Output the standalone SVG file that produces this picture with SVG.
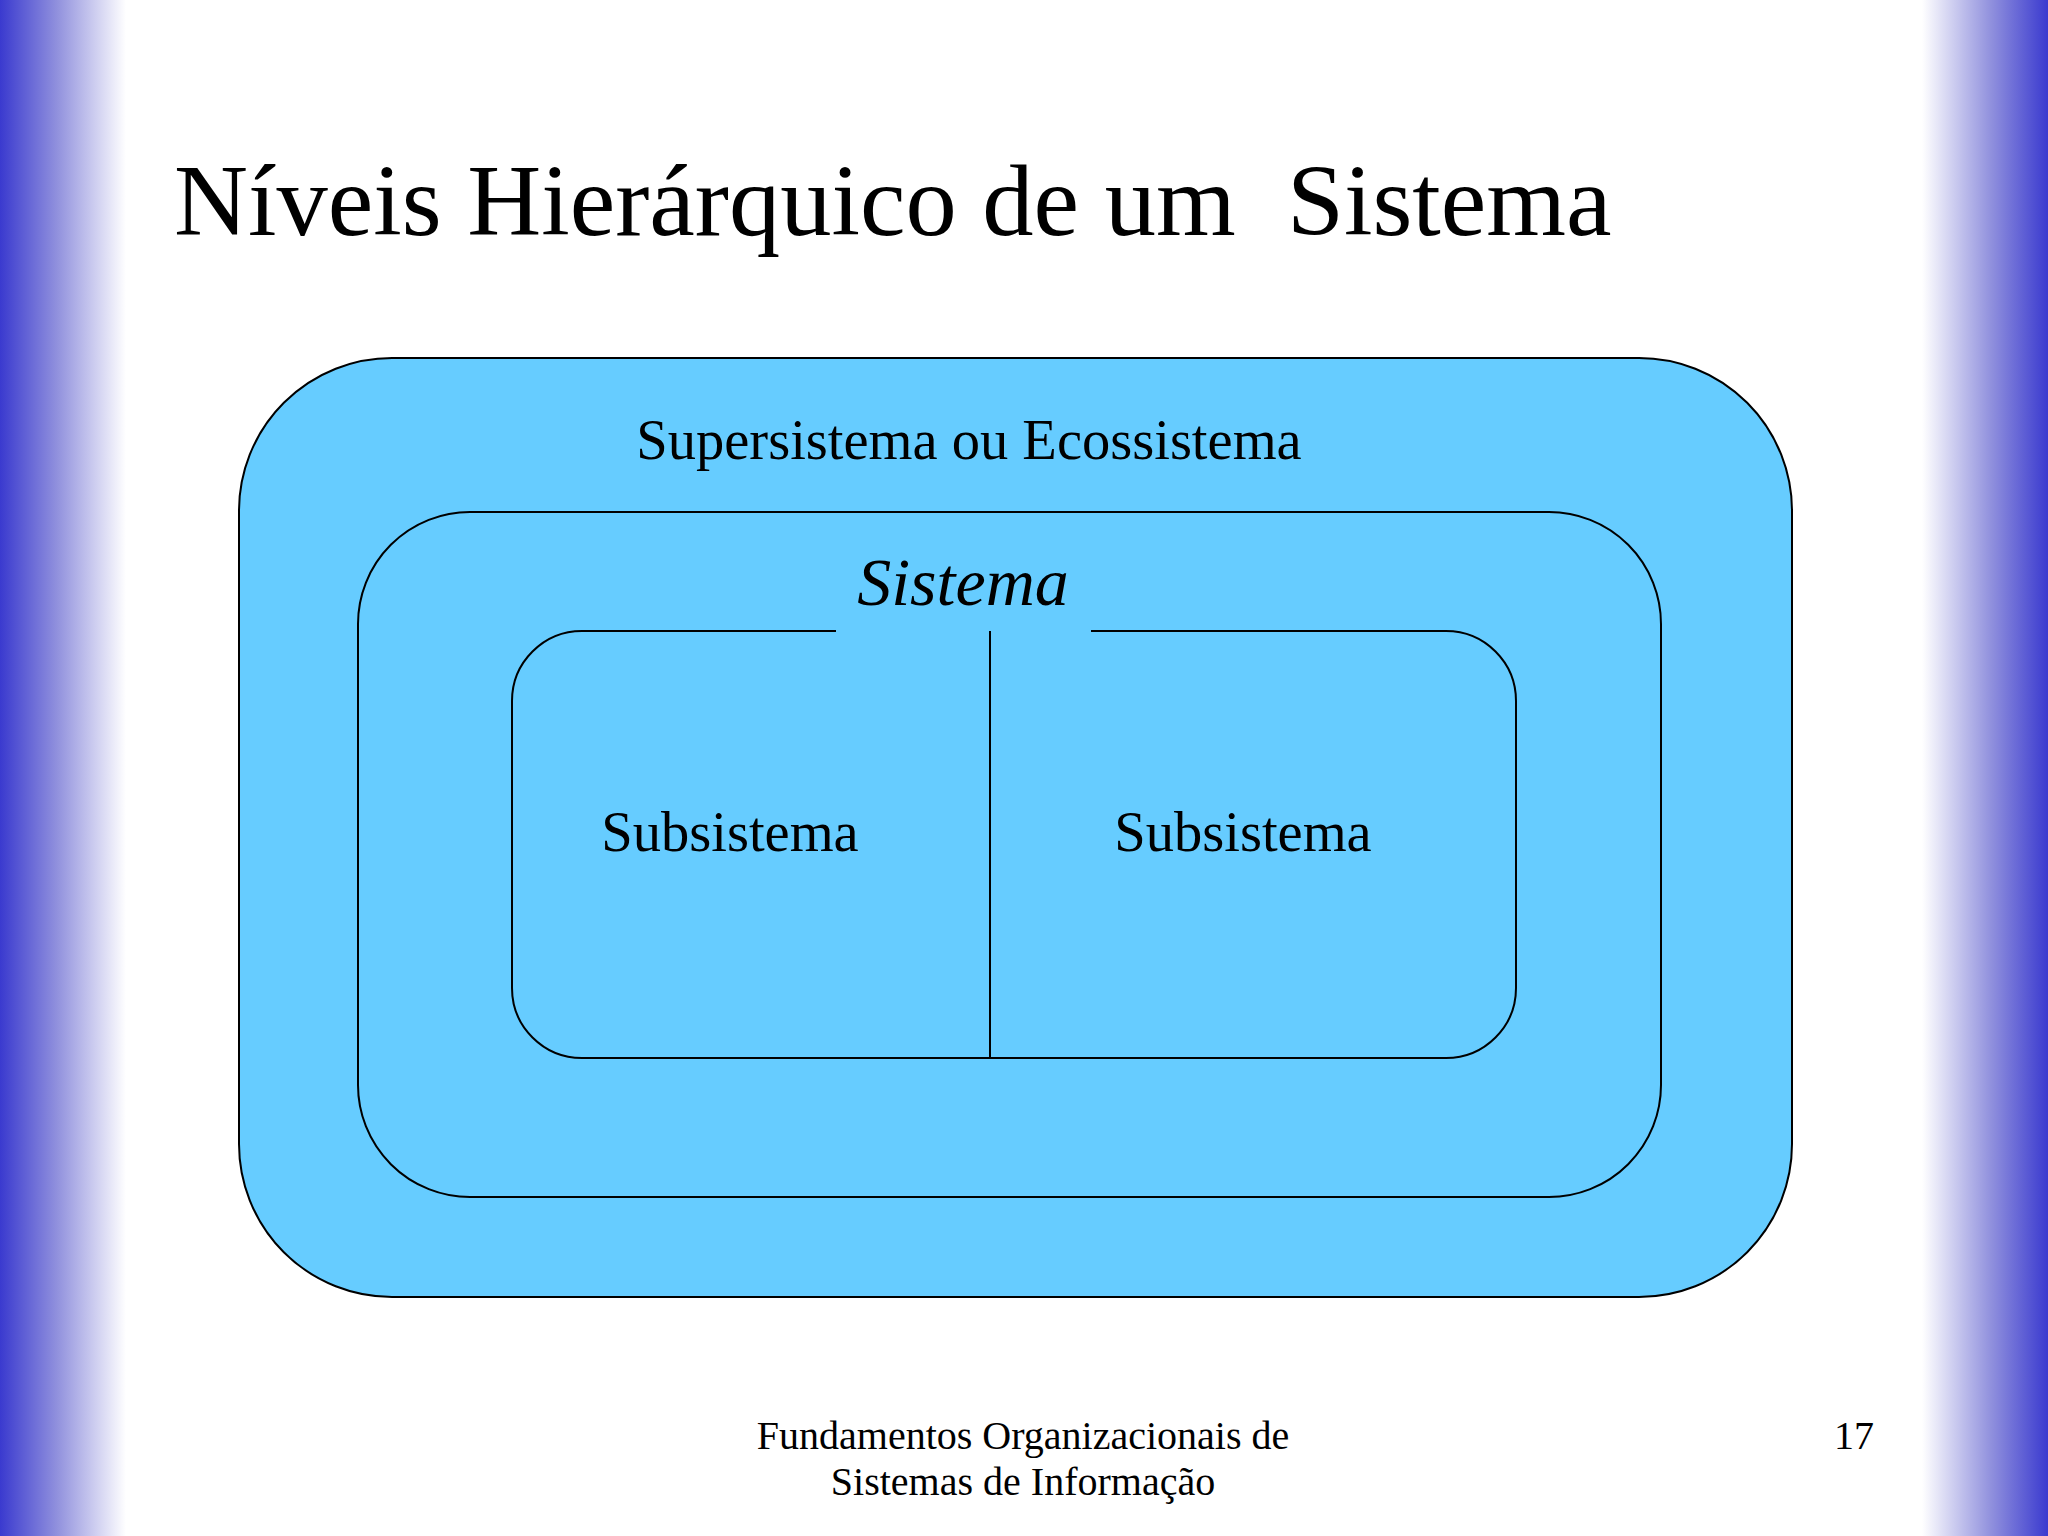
<svg xmlns="http://www.w3.org/2000/svg" width="2048" height="1536" viewBox="0 0 2048 1536">
  <defs>
    <linearGradient id="gl" x1="0" y1="0" x2="1" y2="0">
      <stop offset="0" stop-color="#3A3ACF"/>
      <stop offset="0.45" stop-color="#9090DD"/>
      <stop offset="1" stop-color="#FFFFFF"/>
    </linearGradient>
    <linearGradient id="gr" x1="1" y1="0" x2="0" y2="0">
      <stop offset="0" stop-color="#3A3ACF"/>
      <stop offset="0.45" stop-color="#9090DD"/>
      <stop offset="1" stop-color="#FFFFFF"/>
    </linearGradient>
    <style>
      .box { fill: #66CCFF; stroke: #000000; stroke-width: 2; }
      .t { font-family: "Liberation Serif", "Times New Roman", serif; fill: #000000; }
    </style>
  </defs>
  <rect x="0" y="0" width="2048" height="1536" fill="#FFFFFF"/>
  <rect x="0" y="0" width="126" height="1536" fill="url(#gl)"/>
  <rect x="1922" y="0" width="126" height="1536" fill="url(#gr)"/>

  <text class="t" x="174" y="235" font-size="102.5" xml:space="preserve">Níveis Hierárquico de um  Sistema</text>

  <g id="supersistema">
    <rect class="box" x="239" y="358" width="1553" height="939" rx="153" ry="153"/>
    <text class="t" x="969" y="459" font-size="56.5" text-anchor="middle">Supersistema ou Ecossistema</text>
  </g>

  <g id="sistema">
    <rect class="box" x="358" y="512" width="1303" height="685" rx="112" ry="112"/>
    <text class="t" x="963" y="605" font-size="68" font-style="italic" text-anchor="middle">Sistema</text>
  </g>

  <g id="subsistemas">
    <path class="box" d="M836,631 H582 A70,70 0 0 0 512,701 V988 A70,70 0 0 0 582,1058 H1446 A70,70 0 0 0 1516,988 V701 A70,70 0 0 0 1446,631 H1091"/>
    <g id="subsistema1">
      <text class="t" x="730" y="851" font-size="56.5" text-anchor="middle">Subsistema</text>
    </g>
    <g id="subsistema2">
      <text class="t" x="1243" y="851" font-size="56.5" text-anchor="middle">Subsistema</text>
    </g>
  </g>

  <g id="connectors">
    <line x1="990" y1="631" x2="990" y2="1058" stroke="#000000" stroke-width="2"/>
  </g>

  <text class="t" x="1023" y="1449" font-size="40" text-anchor="middle">Fundamentos Organizacionais de</text>
  <text class="t" x="1023" y="1495" font-size="40" text-anchor="middle">Sistemas de Informação</text>
  <text class="t" x="1854" y="1449" font-size="40" text-anchor="middle">17</text>
</svg>
